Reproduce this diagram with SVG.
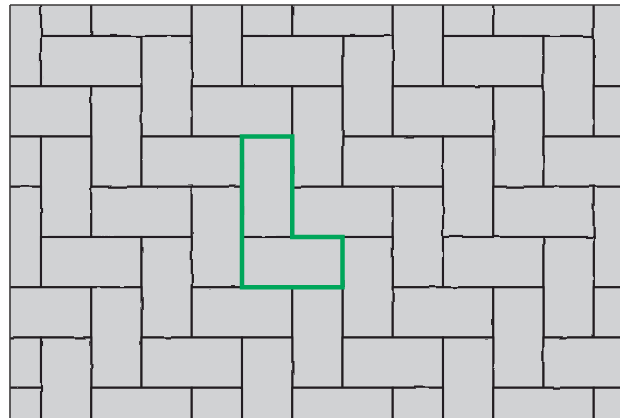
<svg xmlns="http://www.w3.org/2000/svg" xmlns:xlink="http://www.w3.org/1999/xlink" width="620" height="418" viewBox="0 0 620 418">
  <style>
    .brick { fill: #d1d2d4; stroke: #231f20; stroke-width: 2.1; }
    .edge { stroke: #3a3839; stroke-width: 1.6; fill: none; }
    .outline { fill: none; stroke: #00a65a; stroke-width: 4.5; stroke-linejoin: miter; }
  </style>
  <defs>
    <clipPath id="area"><rect x="10" y="5" width="610" height="413"/></clipPath>
    <filter id="wobble" x="-2%" y="-2%" width="104%" height="104%">
      <feTurbulence type="fractalNoise" baseFrequency="0.045" numOctaves="1" seed="5" result="n"/>
      <feDisplacementMap in="SourceGraphic" in2="n" scale="2.6" xChannelSelector="R" yChannelSelector="G"/>
    </filter>
    <rect id="h" class="brick" width="100.5" height="50.25"/>
    <rect id="v" class="brick" width="50.25" height="100.5"/>
  </defs>
  <rect width="620" height="418" fill="#ffffff"/>
  <g id="paving" clip-path="url(#area)">
    <rect x="10" y="5" width="610" height="413" fill="#d1d2d4"/>
    <g filter="url(#wobble)">
      <!-- row -2 -->
      <use href="#v" x="41" y="-64.5"/>
      <use href="#v" x="242" y="-64.5"/>
      <use href="#v" x="443" y="-64.5"/>
      <!-- row -1 -->
      <use href="#h" x="91.25" y="-14.25"/>
      <use href="#h" x="292.25" y="-14.25"/>
      <use href="#h" x="493.25" y="-14.25"/>
      <use href="#v" x="-9.25" y="-14.25"/>
      <use href="#v" x="191.75" y="-14.25"/>
      <use href="#v" x="392.75" y="-14.25"/>
      <use href="#v" x="593.75" y="-14.25"/>
      <!-- row 0 -->
      <use href="#h" x="41" y="36"/>
      <use href="#h" x="242" y="36"/>
      <use href="#h" x="443" y="36"/>
      <use href="#v" x="141.5" y="36"/>
      <use href="#v" x="342.5" y="36"/>
      <use href="#v" x="543.5" y="36"/>
      <!-- row 1 -->
      <use href="#h" x="-9.25" y="86.25"/>
      <use href="#h" x="191.75" y="86.25"/>
      <use href="#h" x="392.75" y="86.25"/>
      <use href="#h" x="593.75" y="86.25"/>
      <use href="#v" x="91.25" y="86.25"/>
      <use href="#v" x="292.25" y="86.25"/>
      <use href="#v" x="493.25" y="86.25"/>
      <!-- row 2 -->
      <use href="#h" x="-59.5" y="136.5"/>
      <use href="#h" x="141.5" y="136.5"/>
      <use href="#h" x="342.5" y="136.5"/>
      <use href="#h" x="543.5" y="136.5"/>
      <use href="#v" x="41" y="136.5"/>
      <use href="#v" x="242" y="136.5"/>
      <use href="#v" x="443" y="136.5"/>
      <!-- row 3 -->
      <use href="#h" x="91.25" y="186.75"/>
      <use href="#h" x="292.25" y="186.75"/>
      <use href="#h" x="493.25" y="186.75"/>
      <use href="#v" x="-9.25" y="186.75"/>
      <use href="#v" x="191.75" y="186.75"/>
      <use href="#v" x="392.75" y="186.75"/>
      <use href="#v" x="593.75" y="186.75"/>
      <!-- row 4 -->
      <use href="#h" x="41" y="237"/>
      <use href="#h" x="242" y="237"/>
      <use href="#h" x="443" y="237"/>
      <use href="#v" x="141.5" y="237"/>
      <use href="#v" x="342.5" y="237"/>
      <use href="#v" x="543.5" y="237"/>
      <!-- row 5 -->
      <use href="#h" x="-9.25" y="287.25"/>
      <use href="#h" x="191.75" y="287.25"/>
      <use href="#h" x="392.75" y="287.25"/>
      <use href="#h" x="593.75" y="287.25"/>
      <use href="#v" x="91.25" y="287.25"/>
      <use href="#v" x="292.25" y="287.25"/>
      <use href="#v" x="493.25" y="287.25"/>
      <!-- row 6 -->
      <use href="#h" x="-59.5" y="337.5"/>
      <use href="#h" x="141.5" y="337.5"/>
      <use href="#h" x="342.5" y="337.5"/>
      <use href="#h" x="543.5" y="337.5"/>
      <use href="#v" x="41" y="337.5"/>
      <use href="#v" x="242" y="337.5"/>
      <use href="#v" x="443" y="337.5"/>
      <!-- row 7 -->
      <use href="#h" x="91.25" y="387.75"/>
      <use href="#h" x="292.25" y="387.75"/>
      <use href="#h" x="493.25" y="387.75"/>
      <use href="#v" x="-9.25" y="387.75"/>
      <use href="#v" x="191.75" y="387.75"/>
      <use href="#v" x="392.75" y="387.75"/>
      <use href="#v" x="593.75" y="387.75"/>
    </g>
  </g>
  <g id="border">
    <line class="edge" x1="10" y1="5" x2="10" y2="418"/>
    <line class="edge" x1="10" y1="5" x2="620" y2="5"/>
  </g>
  <g id="highlight">
    <path class="outline" d="M242,136.5 H292.25 V237 H342.5 V287.25 H242 Z"/>
  </g>
</svg>
